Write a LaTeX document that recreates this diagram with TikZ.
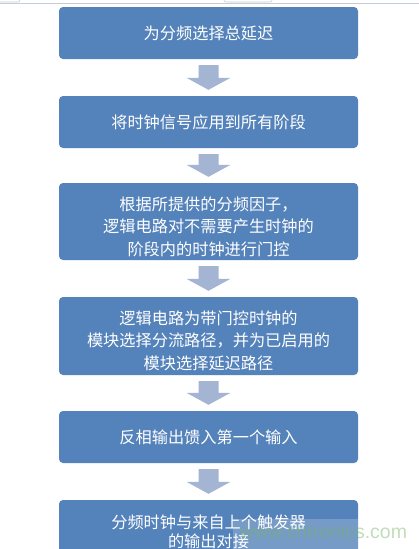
\documentclass[tikz,border=0pt]{standalone}
\usepackage{fontspec}
\newfontfamily\cjk{Noto Sans CJK SC}
\newfontfamily\wmfont{Liberation Sans}
\usetikzlibrary{calc}
\definecolor{boxblue}{RGB}{84,130,186}
\definecolor{arrowblue}{RGB}{164,181,212}
\definecolor{wmgreen}{RGB}{120,180,100}
\definecolor{uigray}{RGB}{196,204,214}
\tikzset{
  stepbox/.style={fill=boxblue, rounded corners=4pt, minimum width=299pt,
    text=white, align=center, inner sep=0pt,
    font=\cjk\fontsize{16.2}{22.5}\selectfont},
  steptext/.style={text=white, align=center, inner sep=0pt,
    font=\cjk\fontsize{16.2}{22.5}\selectfont},
  blockarrow/.style={fill=arrowblue}
}
\newcommand\flowarrow[2]{%
  \fill[blockarrow] ($(#1.south)+(-10,6)$) -- ($(#1.south)+(10,6)$)
    -- ($(#2.north)+(10,-18)$) -- ($(#2.north)+(22,-18)$)
    -- ($(#2.north)+(0,-6)$) -- ($(#2.north)+(-22,-18)$)
    -- ($(#2.north)+(-10,-18)$) -- cycle;}
\begin{document}
\begin{tikzpicture}[x=1pt,y=-1pt]
\useasboundingbox (0,0) rectangle (419,549);
\clip (0,0) rectangle (419,549);
\fill[white] (0,0) rectangle (419,549);
% top UI strip
\draw[uigray, line width=0.8pt] (0,3.5) -- (419,3.5);
\draw[uigray, line width=0.6pt, rounded corners=2pt] (-5,-4) rectangle (20,2);
\draw[uigray, line width=0.6pt, rounded corners=2pt] (224,-4) rectangle (272,2);
% boxes
\node[stepbox, minimum height=52pt] (b1) at (208.5,33) {为分频选择总延迟};
\node[stepbox, minimum height=52pt] (b2) at (208.5,122) {将时钟信号应用到所有阶段};
\node[stepbox, minimum height=77pt] (b3) at (208.5,221.5) {};
\node[steptext] (t3) at (208.5,226.5)
  {根据所提供的分频因子，\\逻辑电路对不需要产生时钟的\\阶段内的时钟进行门控};
\node[stepbox, minimum height=78pt] (b4) at (208.5,336) {};
\node[steptext] (t4) at (208.5,340.5)
  {逻辑电路为带门控时钟的\\模块选择分流路径，并为已启用的\\模块选择延迟路径};
\node[stepbox, minimum height=52pt] (b5) at (208.5,437) {反相输出馈入第一个输入};
\node[stepbox, minimum height=64pt, font=\cjk\fontsize{16.2}{18.5}\selectfont] (b6) at (208.5,532)
  {分频时钟与来自上个触发器\\的输出对接};
% arrows
\flowarrow{b1}{b2}
\flowarrow{b2}{b3}
\flowarrow{b3}{b4}
\flowarrow{b4}{b5}
\flowarrow{b5}{b6}
% watermark
\fill[white, opacity=0.2] (233,519) rectangle (419,552);
\node[anchor=base west, inner sep=0pt, text=wmgreen, text opacity=0.45,
  font=\wmfont\fontsize{19.5}{20}\selectfont] (wm) at (240,538) {www.cntronics.com};
\end{tikzpicture}
\end{document}
